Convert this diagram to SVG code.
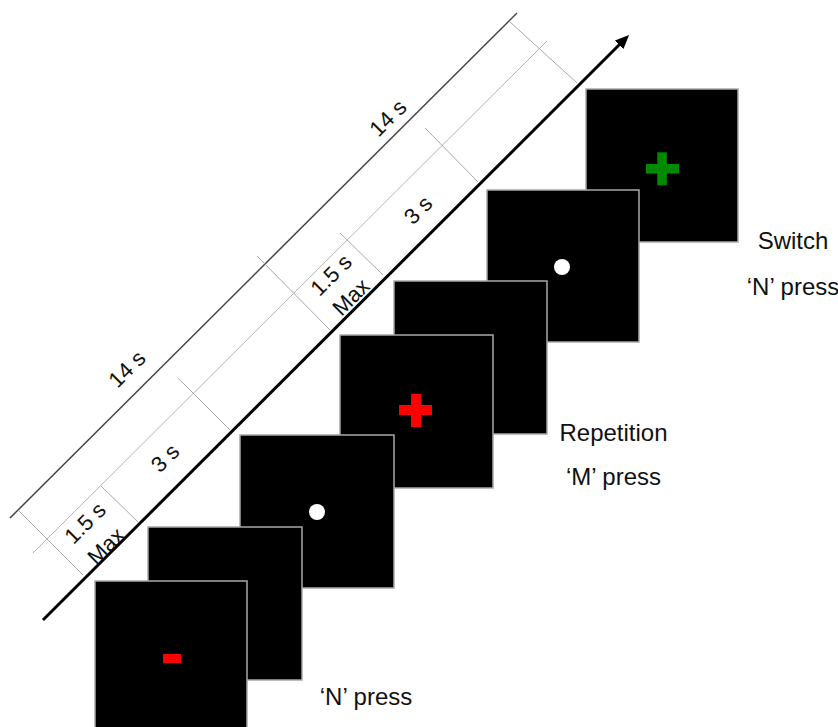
<svg xmlns="http://www.w3.org/2000/svg" width="838" height="727" viewBox="0 0 838 727">
<style>
.scr{fill:#000;stroke:#a8a8a8;stroke-width:1.5}
.lbl{font-family:"Liberation Sans",Arial,sans-serif;font-size:24px;fill:#111;text-anchor:middle}
.rt{font-family:"Liberation Sans",Arial,sans-serif;font-size:22px;fill:#111;text-anchor:middle;dominant-baseline:central}
.tick{stroke:#a8a8a8;stroke-width:1;fill:none}
</style>
<defs>
<marker id="ah" markerWidth="16" markerHeight="12" refX="4" refY="6" orient="auto" markerUnits="userSpaceOnUse">
<path d="M0,0 L14,6 L0,12 z" fill="#000"/>
</marker>
</defs>
<rect width="838" height="727" fill="#fff"/>
<g id="timeline">
<line x1="10" y1="518" x2="517" y2="13" stroke="#444" stroke-width="1.5"/>
<line x1="33" y1="553" x2="547" y2="41" stroke="#b4b4b4" stroke-width="1"/>
<line class="tick" x1="18" y1="510" x2="83" y2="575"/>
<line class="tick" x1="101" y1="486" x2="138" y2="522"/>
<line class="tick" x1="178" y1="378" x2="230" y2="430"/>
<line class="tick" x1="257" y1="256" x2="330" y2="330"/>
<line class="tick" x1="340" y1="233" x2="383" y2="275"/>
<line class="tick" x1="425" y1="128" x2="478" y2="182"/>
<line class="tick" x1="509" y1="21" x2="577" y2="83"/>
<line x1="43" y1="620" x2="622" y2="42" stroke="#000" stroke-width="3" marker-end="url(#ah)"/>
</g>
<g id="timeline-labels">
<text class="rt" x="127" y="369" transform="rotate(-45 127 369)">14 s</text>
<text class="rt" x="388" y="118" transform="rotate(-45 388 118)">14 s</text>
<text class="rt" x="165" y="458" transform="rotate(-45 165 458)">3 s</text>
<text class="rt" x="418" y="210" transform="rotate(-45 418 210)">3 s</text>
<text class="rt" x="85" y="523" transform="rotate(-45 85 523)">1.5 s</text>
<text class="rt" x="106" y="546" transform="rotate(-45 106 546)">Max</text>
<text class="rt" x="331" y="275" transform="rotate(-45 331 275)">1.5 s</text>
<text class="rt" x="351" y="297" transform="rotate(-45 351 297)">Max</text>
</g>
<g id="screen-g">
<rect class="scr" x="586" y="89" width="152" height="153"/>
<rect x="646" y="164" width="33" height="9.5" fill="#008a00"/>
<rect x="657.3" y="152.3" width="9.5" height="33" fill="#008a00"/>
</g>
<g id="screen-f">
<rect class="scr" x="487" y="190" width="152" height="152"/>
<circle cx="562" cy="267" r="8" fill="#fff"/>
</g>
<g id="screen-e">
<rect class="scr" x="394" y="281" width="153" height="153"/>
</g>
<g id="screen-d">
<rect class="scr" x="340" y="335" width="153" height="153"/>
<rect x="399" y="405" width="33" height="10" fill="#f00"/>
<rect x="411" y="394" width="10" height="33" fill="#f00"/>
</g>
<g id="screen-c">
<rect class="scr" x="240" y="435" width="154" height="153"/>
<circle cx="317" cy="512" r="8" fill="#fff"/>
</g>
<g id="screen-b">
<rect class="scr" x="148" y="527" width="154" height="153"/>
</g>
<g id="screen-a">
<rect class="scr" x="95" y="581" width="152" height="160"/>
<rect x="163" y="654" width="18" height="9" fill="#f00"/>
</g>
<g id="labels">
<text class="lbl" x="793" y="249">Switch</text>
<text class="lbl" x="793" y="295">‘N’ press</text>
<text class="lbl" x="613.5" y="441">Repetition</text>
<text class="lbl" x="613.5" y="485">‘M’ press</text>
<text class="lbl" x="366" y="705">‘N’ press</text>
</g>
</svg>
